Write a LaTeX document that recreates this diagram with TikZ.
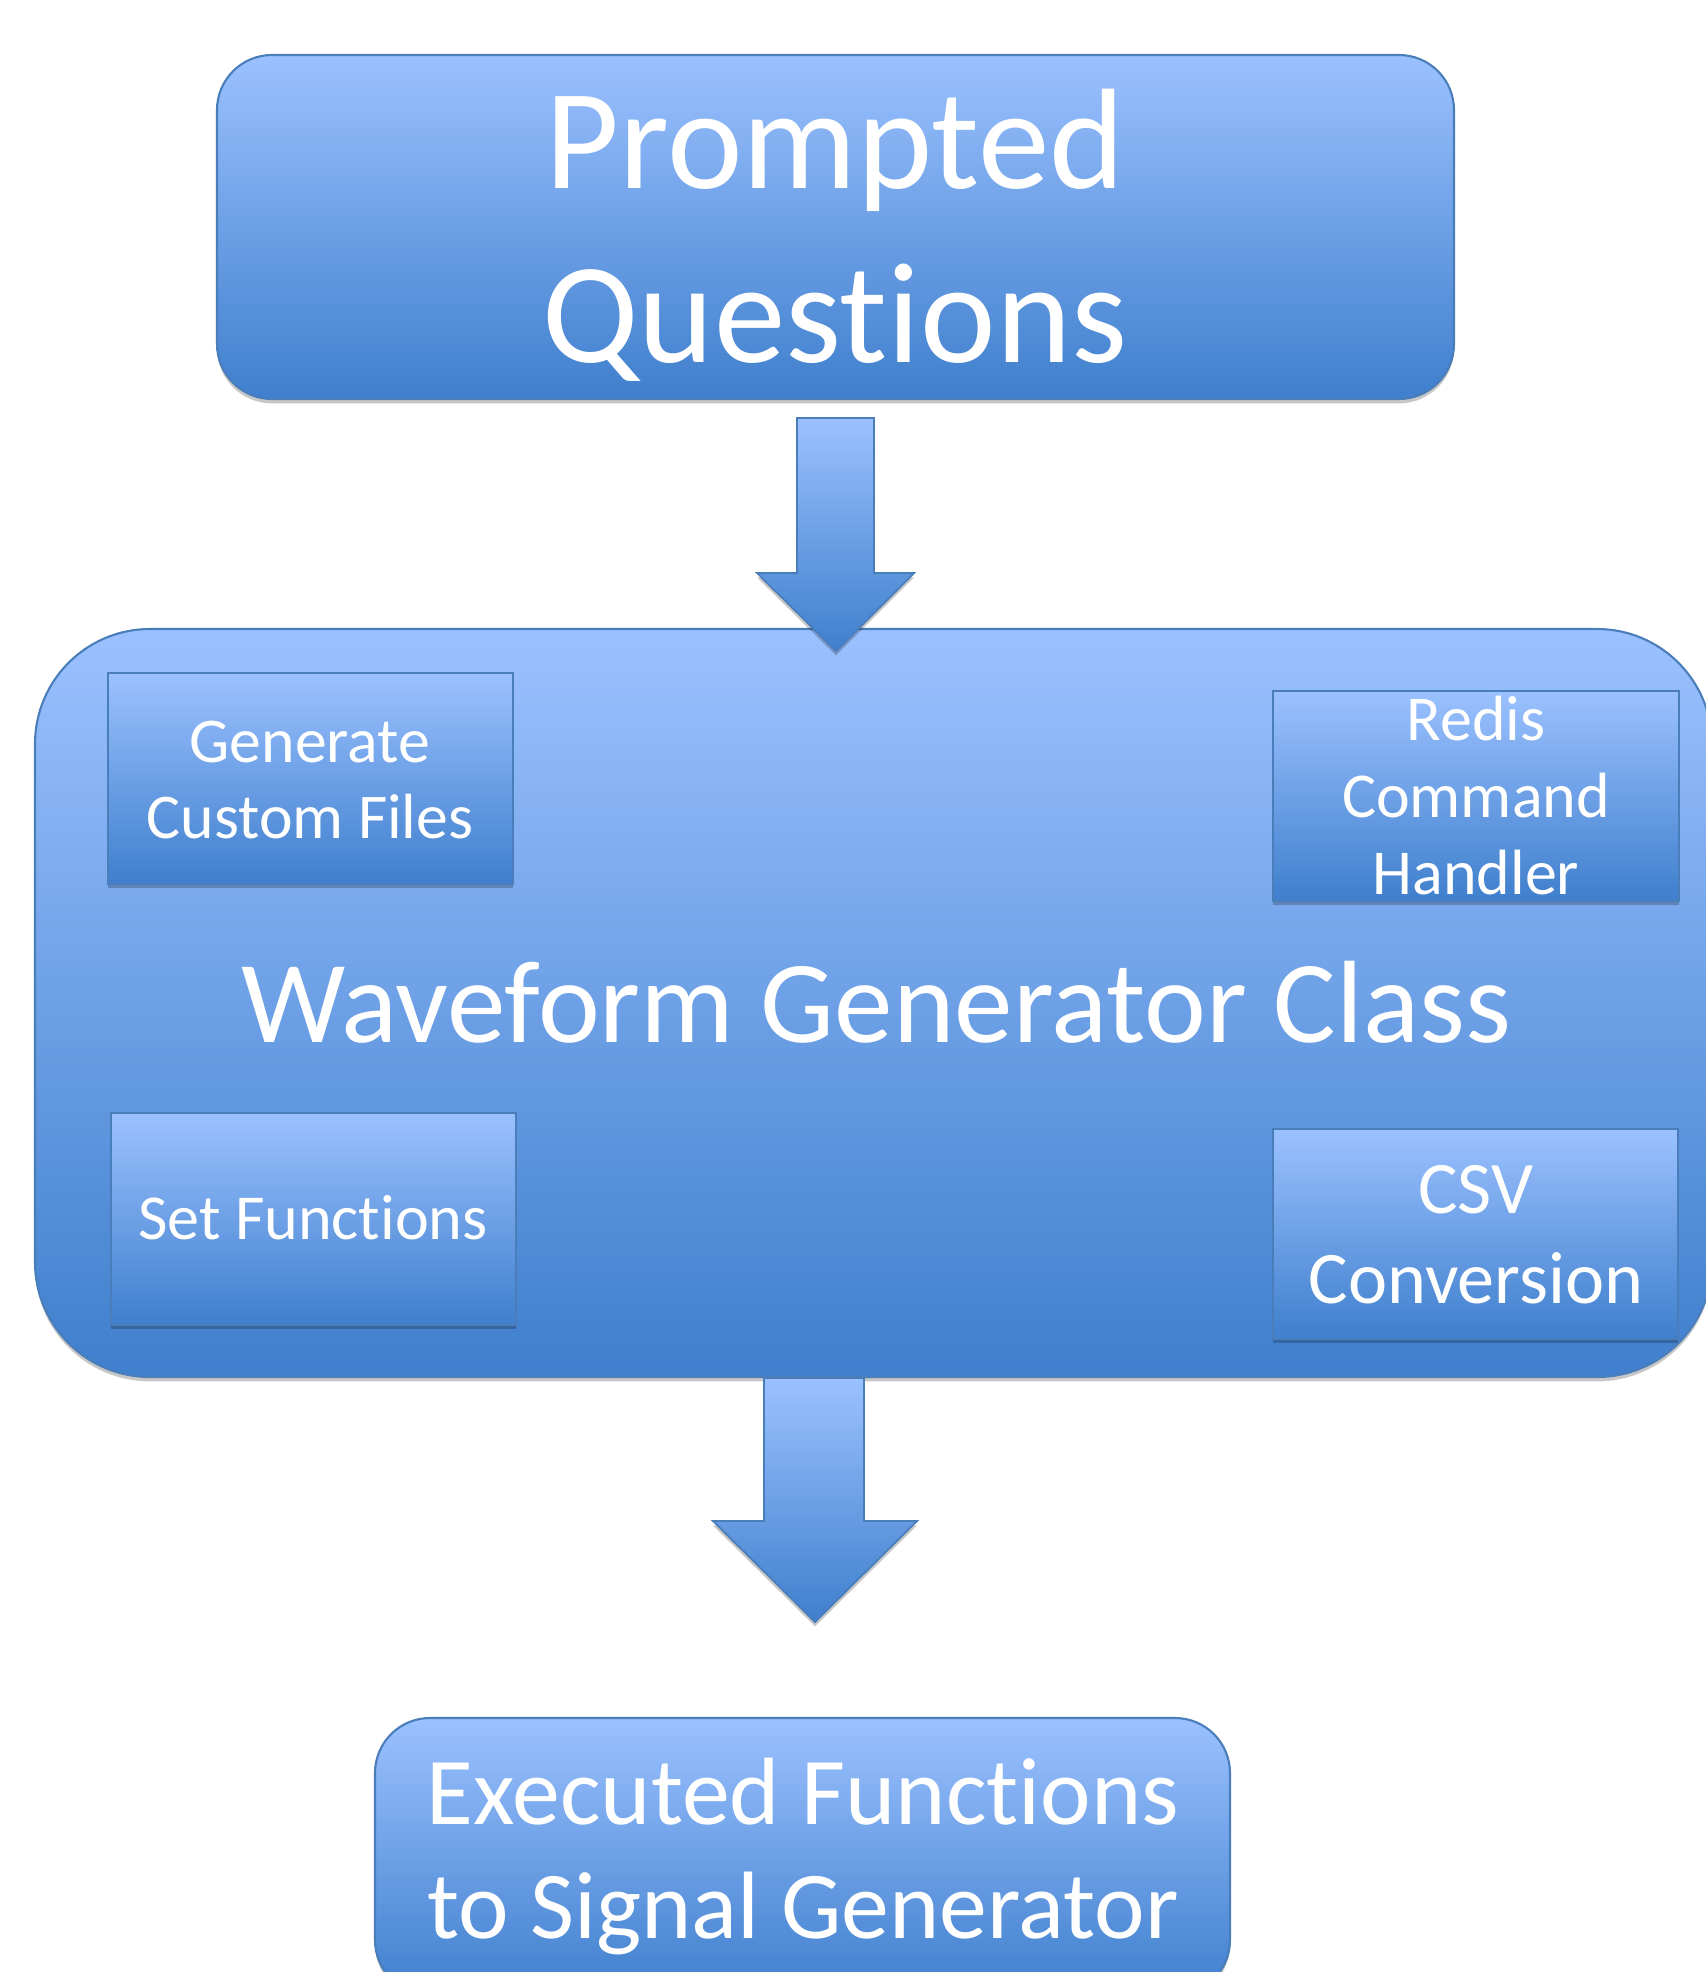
\documentclass[tikz,border=0pt]{standalone}
\usepackage{fontspec}
\setmainfont{Carlito}[Ligatures=NoCommon]
\usetikzlibrary{shadows,fit}
\definecolor{lt}{RGB}{155,193,255}
\definecolor{dk}{RGB}{63,127,205}
\definecolor{bd}{RGB}{74,126,187}
\tikzset{
  grad/.style={top color=lt, bottom color=dk, draw=bd, line width=1.2pt},
  shad/.style={drop shadow={shadow xshift=0pt, shadow yshift=-2.5pt, fill=black, opacity=0.22}},
  rbox/.style={grad, shad, rounded corners=1.1cm, inner sep=0pt},
  sbox/.style={grad, shad, inner sep=0pt},
  lbl/.style={text=white, align=center, anchor=base, inner sep=0pt},
  blockarrow/.style={grad, shad, line width=1pt}
}
\begin{document}
\begin{tikzpicture}[x=0.02cm,y=-0.02cm]
\useasboundingbox[clip] (0,0) rectangle (1706,1972);
\fill[white] (0,0) rectangle (1706,1972);

% top box
\node[rbox, fit={(217,55) (1454,399)}] (prompt) {};
\node[lbl, font=\fontsize{81.5}{98.6}\selectfont] (prompttxt) at (835,362) {Prompted\\Questions};

% big box
\node[rbox, rounded corners=2.3cm, fit={(35,629) (1712,1377)}] (wave) {};
\node[lbl, font=\fontsize{66.7}{80}\selectfont] (wavetxt) at (876,1042) {Waveform Generator Class};

% inner boxes
\node[sbox, fit={(108,673) (513,884)}] (gen) {};
\node[lbl, font=\fontsize{36.3}{43}\selectfont] (gentxt) at (310,838) {Generate\\Custom Files};
\node[sbox, fit={(1273,691) (1679,901)}] (redis) {};
\node[lbl, font=\fontsize{36.4}{43.6}\selectfont] (redistxt) at (1476,894) {Redis\\Command\\Handler};
\node[sbox, fit={(111,1113) (516,1325)}] (setf) {};
\node[lbl, font=\fontsize{36.5}{44}\selectfont] (setftxt) at (313,1239) {Set Functions};
\node[sbox, fit={(1273,1129) (1678,1339)}] (csv) {};
\node[lbl, font=\fontsize{42.2}{51}\selectfont] (csvtxt) at (1476,1303) {CSV\\Conversion};

% bottom box
\node[rbox, fit={(375,1718) (1230,1995)}] (exec) {};
\node[lbl, font=\fontsize{54.5}{64.6}\selectfont] (exectxt) at (803,1938) {Executed Functions\\to Signal Generator};

% block arrows
\path[blockarrow] (797,418) -- (874,418) -- (874,573) -- (914,573) -- (836,651) -- (757,573) -- (797,573) -- cycle;
\path[blockarrow] (764,1378) -- (864,1378) -- (864,1521) -- (917,1521) -- (815,1622) -- (713,1521) -- (764,1521) -- cycle;
\end{tikzpicture}
\end{document}
